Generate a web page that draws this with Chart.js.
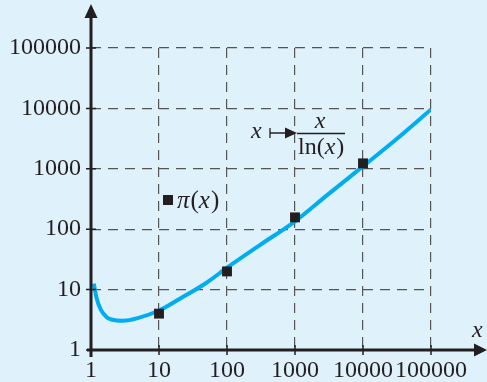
<!DOCTYPE html>
<html>
<head>
<meta charset="utf-8">
<script src="https://cdn.jsdelivr.net/npm/chart.js@4"></script>
<style>
  html, body { margin: 0; padding: 0; background: #dff1fa; }
  #wrap { width: 487px; height: 382px; position: relative; }
</style>
</head>
<body>
<div id="wrap"><canvas id="prime_chart"></canvas></div>
<script>
// values
const curveX = [1.1, 1.2, 1.4, 1.7, 2, 3, 5, 10, 20, 50, 100, 300, 1000, 3000, 10000, 30000, 100000]
const curveY = [12.5, 7.5, 4.6, 3.5, 3.2, 3.05, 3.4, 4.5, 7, 13, 23, 54, 135, 370, 1100, 3000, 9600]
const primeX = [10, 100, 1000, 10000]
const primeY = [4, 20, 157, 1230]
const xTicks = [1, 10, 100, 1000, 10000, 100000]
const yTicks = [1, 10, 100, 1000, 10000, 100000]

const INK = '#231f20'
const SERIF = '"Times New Roman", "Liberation Serif", Times, serif'

// write a run of [text, italic] pieces left to right
function writeRun(c, parts, x, y, size) {
    for (let [txt, it] of parts) {
        c.font = (it ? 'italic ' : '') + size + 'px ' + SERIF
        c.fillText(txt, x, y)
        x += c.measureText(txt).width + (it ? 1 : 0)
    }
    return x
}

// axes with arrows, small tick marks and the text labels
const axesPlugin = {
    id: 'axes',
    afterDraw(chart) {
        const c = chart.ctx
        const a = chart.chartArea
        const xs = chart.scales.x
        const ys = chart.scales.y
        c.save()
        c.strokeStyle = INK
        c.fillStyle = INK
        c.lineWidth = 3
        c.beginPath()
        c.moveTo(a.left - 4, a.bottom)
        c.lineTo(476, a.bottom)
        c.moveTo(a.left, a.bottom + 7)
        c.lineTo(a.left, 16)
        c.stroke()
        // arrow heads
        c.beginPath()
        c.moveTo(487, a.bottom)
        c.lineTo(474, a.bottom - 6.5)
        c.lineTo(474, a.bottom + 6.5)
        c.closePath()
        c.fill()
        c.beginPath()
        c.moveTo(a.left, 4)
        c.lineTo(a.left - 6.5, 18)
        c.lineTo(a.left + 6.5, 18)
        c.closePath()
        c.fill()
        // tick marks
        c.lineWidth = 1.5
        c.beginPath()
        for (let v of xTicks) {
            let px = xs.getPixelForValue(v)
            c.moveTo(px, a.bottom - 5)
            c.lineTo(px, a.bottom + 5)
        }
        for (let v of yTicks) {
            let py = ys.getPixelForValue(v)
            c.moveTo(a.left - 5, py)
            c.lineTo(a.left + 5, py)
        }
        c.stroke()

        // labels
        c.textBaseline = 'alphabetic'
        c.font = 'italic 24px ' + SERIF
        c.fillText('x', 472, 337)

        // pi(x) key
        c.fillRect(163, 195, 10, 10)
        writeRun(c, [['\u03c0', true], ['(', false], ['x', true], [')', false]], 177, 208, 25)

        // x -> x / ln(x)
        c.font = 'italic 24px ' + SERIF
        c.fillText('x', 251, 138)
        c.lineWidth = 1.3
        c.beginPath()
        c.moveTo(270, 128)
        c.lineTo(270, 138)
        c.moveTo(270, 133)
        c.lineTo(288, 133)
        c.stroke()
        c.beginPath()
        c.moveTo(297, 133)
        c.lineTo(285, 127.5)
        c.lineTo(285, 138.5)
        c.closePath()
        c.fill()
        c.beginPath()
        c.moveTo(297, 133.5)
        c.lineTo(345, 133.5)
        c.stroke()
        c.textAlign = 'center'
        c.fillText('x', 320, 128)
        c.textAlign = 'left'
        writeRun(c, [['ln(', false], ['x', true], [')', false]], 298, 154, 24)
        c.restore()
    }
}

const ctx = document.getElementById('prime_chart')

const primeChart = new Chart(ctx, {
    type: 'line',
    data: {
        datasets: [{
            label: 'x/ln(x)',
            data: curveX.map((x, i) => ({ x: x, y: curveY[i] })),
            borderColor: '#00aeef',
            borderWidth: 4,
            pointRadius: 0,
            cubicInterpolationMode: 'monotone',
            order: 2,
        }, {
            label: 'pi(x)',
            data: primeX.map((x, i) => ({ x: x, y: primeY[i] })),
            showLine: false,
            pointStyle: 'rect',
            pointRadius: 7,
            backgroundColor: INK,
            borderColor: INK,
            borderWidth: 0,
            order: 1,
        }]
    },
    options: {
        responsive: true,
        maintainAspectRatio: false,
        animation: false,
        layout: { padding: { top: 48, right: 56, left: 0, bottom: 0 } },
        plugins: { legend: { display: false }, tooltip: { enabled: false } },
        scales: {
            x: {
                type: 'logarithmic',
                min: 1,
                max: 100000,
                afterBuildTicks: s => { s.ticks = xTicks.map(v => ({ value: v })) },
                afterFit: s => { s.height = 32 },
                grid: { color: '#555', lineWidth: 1.2, drawTicks: false },
                border: { display: false, dash: [10, 7] },
                ticks: {
                    padding: 6,
                    color: INK,
                    font: { family: SERIF, size: 24 },
                    maxRotation: 0,
                    autoSkip: false,
                    callback: v => String(v),
                },
            },
            y: {
                type: 'logarithmic',
                min: 1,
                max: 100000,
                afterBuildTicks: s => { s.ticks = yTicks.map(v => ({ value: v })) },
                afterFit: s => { s.width = 91 },
                grid: { color: '#555', lineWidth: 1.2, drawTicks: false },
                border: { display: false, dash: [10, 7] },
                ticks: {
                    padding: 10,
                    color: INK,
                    font: { family: SERIF, size: 24 },
                    autoSkip: false,
                    callback: v => String(v),
                },
            }
        }
    },
    plugins: [axesPlugin]
});
</script>
</body>
</html>
